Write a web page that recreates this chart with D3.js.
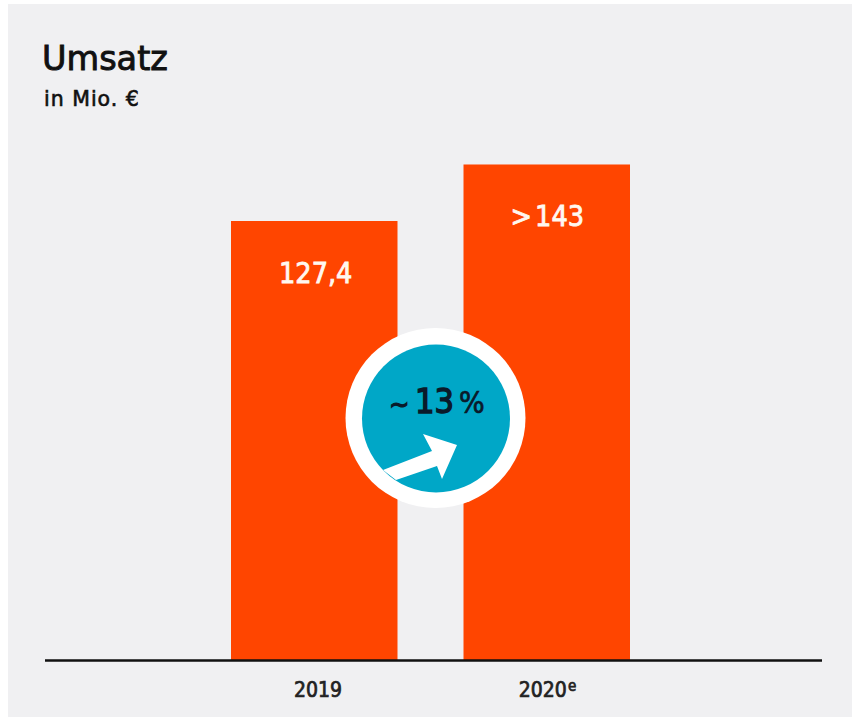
<!DOCTYPE html>
<html><head><meta charset="utf-8">
<script src="https://cdn.jsdelivr.net/npm/d3@7/dist/d3.min.js"></script>
<style>html,body{margin:0;padding:0;background:#fff}svg{display:block}text{font-family:"DejaVu Sans",sans-serif;font-stretch:condensed}text.wide{font-stretch:normal}</style>
</head><body><svg id="c" width="852" height="717"></svg>
<script>
const categories = ["2019", "2020"];
const values = [127.4, 143.8];
const valueLabels = ["127,4", "> 143"];
const tickSuffix = ["", "e"];
const growthParts = ["~", "13", "%"];

const svg = d3.select("#c");
svg.append("rect").attr("x",8).attr("y",4).attr("width",844).attr("height",713).attr("fill","#f0f0f2");

const xs = d3.scalePoint().domain(categories).range([231,463.5]);
const y = d3.scaleLinear().domain([0,127.4]).range([660,221]);
const bw = 166.5;

svg.selectAll("rect.bar").data(categories).join("rect").attr("class","bar")
  .attr("x",d=>xs(d)).attr("width",bw)
  .attr("y",(d,i)=>y(values[i])).attr("height",(d,i)=>y(0)-y(values[i]))
  .attr("fill","#ff4500");

svg.append("line").attr("x1",45).attr("x2",822).attr("y1",660.5).attr("y2",660.5).attr("stroke","#111").attr("stroke-width",2.4);

svg.selectAll("text.val").data(valueLabels).join("text").attr("class","val")
  .attr("x",(d,i)=>xs(categories[i])+bw/2+(i?0.5:1.5)).attr("y",(d,i)=>y(values[i])+62)
  .attr("text-anchor","middle").attr("fill","#fff8f0").attr("font-size",28.5)
  .attr("word-spacing",-5)
  .attr("stroke","#fff8f0").attr("stroke-width",0.8).text(d=>d);

const tk = svg.selectAll("text.tick").data(categories).join("text").attr("class","tick")
  .attr("x",(d,i)=>xs(d)+bw/2+(i?0.75:3.75)).attr("y",697).attr("text-anchor","middle")
  .attr("fill","#222").attr("font-size",21).attr("stroke","#222").attr("stroke-width",0.7);
tk.text(d=>d);
tk.filter((d,i)=>tickSuffix[i]).append("tspan").attr("dy",-6).attr("dx",1).attr("font-size",15).text(d=>tickSuffix[categories.indexOf(d)]);

svg.append("text").attr("class","wide").attr("x",42).attr("y",70).attr("font-size",33.5).attr("fill","#111")
  .attr("stroke","#111").attr("stroke-width",0.9).text("Umsatz");
svg.append("text").attr("class","wide").attr("x",44).attr("y",106).attr("font-size",20.5).attr("fill","#111")
  .attr("stroke","#111").attr("stroke-width",0.6).attr("letter-spacing",1).text("in Mio. €");

svg.append("circle").attr("cx",435.5).attr("cy",418).attr("r",90).attr("fill","#fff");
svg.append("circle").attr("cx",436).attr("cy",418.5).attr("r",74).attr("fill","#00a7c7");
svg.append("path").attr("fill","#fff")
  .attr("d","M383,470 L432,451 L423,434 L457,445 L442,479 L437,466 L396,480 Z");
const gx = [389, 415, 459], gs = [27, 34, 30];
svg.selectAll("text.g").data(growthParts).join("text").attr("class","g")
  .attr("x",(d,i)=>gx[i]).attr("y",413).attr("font-size",(d,i)=>gs[i])
  .attr("fill","#0a1a2a").attr("stroke","#0a1a2a").attr("stroke-width",(d,i)=>[1.2,1.4,0.7][i]).text(d=>d);
</script></body></html>
